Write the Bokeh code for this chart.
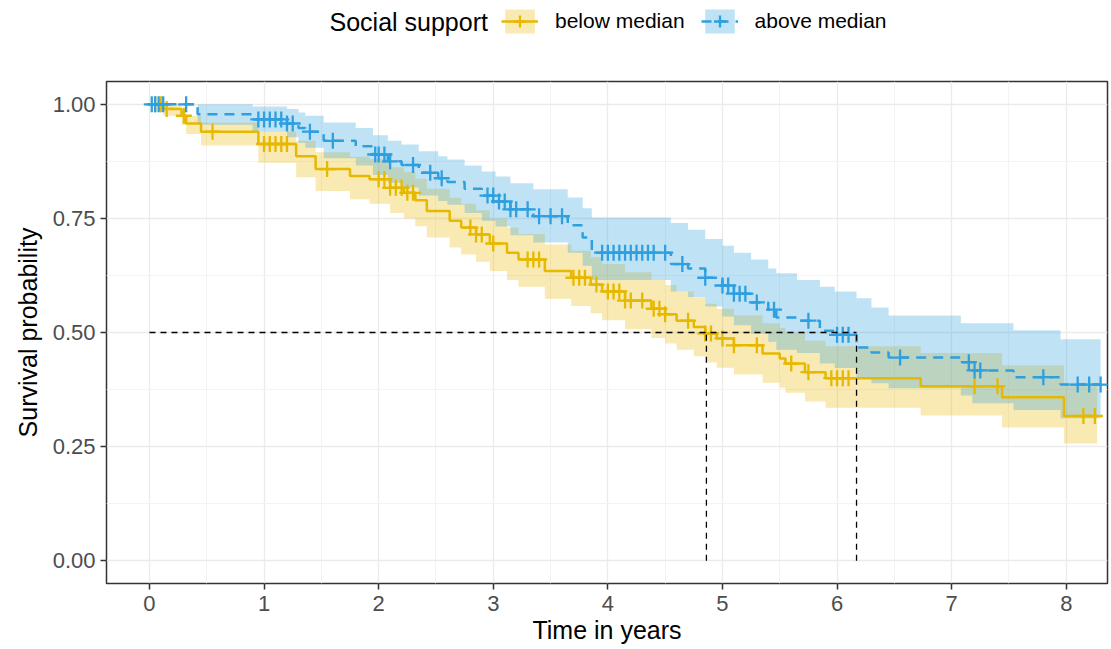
import numpy as np
from bokeh.plotting import figure
from bokeh.layouts import column
from bokeh.models import FixedTicker, Legend, LegendItem, Range1d, NumeralTickFormatter, Label
from bokeh.embed import file_html
from bokeh.resources import INLINE

# ---- below median (yellow) ----
below_t = [0, 0.12, 0.28, 0.32, 0.45, 0.95, 1.28, 1.45, 1.75, 1.92, 2.1, 2.22, 2.32, 2.42,
           2.62, 2.72, 2.85, 2.97, 3.12, 3.22, 3.45, 3.68, 3.85, 3.95, 4.15, 4.38, 4.5, 4.6,
           4.75, 4.85, 4.95, 5.1, 5.35, 5.5, 5.55, 5.72, 5.9, 6.73, 7.44, 7.98]
below_s = [1.0, 0.99, 0.975, 0.958, 0.94, 0.913, 0.886, 0.858, 0.843, 0.836, 0.817, 0.806, 0.79, 0.766,
           0.745, 0.73, 0.715, 0.695, 0.675, 0.66, 0.635, 0.62, 0.605, 0.59, 0.57, 0.552, 0.54, 0.526,
           0.512, 0.498, 0.487, 0.472, 0.454, 0.443, 0.432, 0.413, 0.40, 0.382, 0.358, 0.317]
below_up = [1.0, 1.0, 0.99, 0.975, 0.96, 0.94, 0.92, 0.895, 0.885, 0.88, 0.862, 0.852, 0.837, 0.815,
            0.795, 0.782, 0.768, 0.75, 0.73, 0.716, 0.693, 0.679, 0.665, 0.65, 0.632, 0.615, 0.604, 0.59,
            0.577, 0.563, 0.552, 0.538, 0.52, 0.51, 0.5, 0.482, 0.47, 0.455, 0.428, 0.39]
below_lo = [1.0, 0.975, 0.955, 0.935, 0.91, 0.872, 0.84, 0.81, 0.792, 0.782, 0.762, 0.75, 0.733, 0.708,
            0.686, 0.671, 0.655, 0.635, 0.615, 0.6, 0.574, 0.558, 0.542, 0.527, 0.507, 0.488, 0.476, 0.462,
            0.448, 0.434, 0.423, 0.408, 0.39, 0.379, 0.368, 0.349, 0.335, 0.318, 0.292, 0.257]
below_end = 8.27
below_cens = [0.05, 0.1, 0.15, 0.3, 0.55, 1.0, 1.05, 1.1, 1.15, 1.2, 1.55, 2.0, 2.05, 2.1, 2.15,
              2.2, 2.25, 2.3, 2.8, 2.85, 2.9, 3.0, 3.3, 3.35, 3.4, 3.7, 3.75, 3.8, 3.9, 4.0, 4.05,
              4.1, 4.15, 4.2, 4.3, 4.4, 4.45, 4.5, 4.7, 4.85, 4.9, 5.0, 5.1, 5.3, 5.6, 5.75, 5.95,
              6.0, 6.05, 6.1, 7.2, 7.4, 8.15, 8.25]

# ---- above median (blue) ----
above_t = [0, 0.42, 0.9, 1.2, 1.3, 1.36, 1.52, 1.8, 1.95, 2.08, 2.2, 2.35, 2.52, 2.6, 2.75, 2.9,
           3.02, 3.15, 3.35, 3.65, 3.78, 3.86, 4.55, 4.7, 4.85, 5.0, 5.1, 5.25, 5.4, 5.47, 5.65,
           5.85, 5.98, 6.17, 6.3, 6.45, 7.08, 7.18, 7.54, 7.95]
above_s = [1.0, 0.978, 0.967, 0.958, 0.948, 0.94, 0.92, 0.908, 0.89, 0.875, 0.867, 0.85, 0.838, 0.83,
           0.815, 0.80, 0.787, 0.77, 0.755, 0.735, 0.708, 0.675, 0.65, 0.64, 0.62, 0.603, 0.585, 0.566,
           0.55, 0.533, 0.526, 0.504, 0.495, 0.467, 0.456, 0.445, 0.435, 0.417, 0.402, 0.386]
above_up = [1.0, 1.0, 0.995, 0.99, 0.982, 0.975, 0.96, 0.948, 0.932, 0.92, 0.912, 0.897, 0.886, 0.879,
            0.866, 0.853, 0.842, 0.827, 0.814, 0.796, 0.772, 0.752, 0.74, 0.725, 0.705, 0.69, 0.675, 0.66,
            0.64, 0.63, 0.615, 0.60, 0.59, 0.575, 0.555, 0.537, 0.52, 0.52, 0.505, 0.485]
above_lo = [1.0, 0.955, 0.94, 0.928, 0.915, 0.905, 0.882, 0.866, 0.845, 0.828, 0.818, 0.8, 0.788, 0.78,
            0.762, 0.745, 0.732, 0.713, 0.697, 0.675, 0.646, 0.615, 0.59, 0.578, 0.557, 0.535, 0.516, 0.497,
            0.48, 0.462, 0.455, 0.432, 0.422, 0.40, 0.389, 0.378, 0.362, 0.345, 0.33, 0.312]
above_end = 8.3
above_cens = [0.02, 0.05, 0.08, 0.12, 0.32, 0.95, 1.0, 1.05, 1.1, 1.15, 1.2, 1.25, 1.4, 1.6, 1.97,
              2.0, 2.05, 2.1, 2.3, 2.45, 2.55, 2.95, 3.0, 3.05, 3.1, 3.15, 3.2, 3.3, 3.4, 3.5, 3.6,
              3.95, 4.0, 4.05, 4.1, 4.15, 4.2, 4.25, 4.3, 4.35, 4.4, 4.5, 4.65, 4.85, 5.0, 5.05, 5.1,
              5.15, 5.2, 5.3, 5.45, 5.75, 6.0, 6.05, 6.1, 6.55, 7.15, 7.2, 7.25, 7.8, 8.1, 8.2, 8.3]

median_below = 4.86
median_above = 6.17

legend_title = "Social support"
group_labels = ["below median", "above median"]
colors = ["#E7B800", "#2E9FDF"]
dashes = ["solid", "10 7"]
x_ticks = [0, 1, 2, 3, 4, 5, 6, 7, 8]
y_ticks = [0, 0.25, 0.5, 0.75, 1.0]

FONT = "Liberation Sans"
LEG_H = 44


def stepify(t, v, end):
    xs, ys = [], []
    t = list(t) + [end]
    for i in range(len(v)):
        xs += [t[i], t[i + 1]]
        ys += [v[i], v[i]]
    return np.array(xs), np.array(ys)


def lookup(t, v, c):
    idx = np.searchsorted(np.array(t), np.array(c), side="right") - 1
    return np.array(v)[idx]


p = figure(width=1111, height=649 - LEG_H, x_range=Range1d(-0.375, 8.36), y_range=Range1d(-0.05, 1.05),
           min_border_left=106, min_border_right=4, min_border_top=81 - LEG_H, min_border_bottom=66,
           output_backend="svg", toolbar_location=None)

p.background_fill_color = "white"
p.outline_line_color = "#333333"
p.outline_line_width = 1.5

groups = [
    (below_t, below_s, below_up, below_lo, below_end, below_cens),
    (above_t, above_s, above_up, above_lo, above_end, above_cens),
]

for (t, s, up, lo, end, cens), col in zip(groups, colors):
    xs, yu = stepify(t, up, end)
    _, yl = stepify(t, lo, end)
    p.varea(x=xs, y1=yl, y2=yu, fill_color=col, fill_alpha=0.3)

for (t, s, up, lo, end, cens), col, dash in zip(groups, colors, dashes):
    xs, ys = stepify(t, s, end)
    p.line(xs, ys, line_color=col, line_width=2.5, line_dash=dash)
    cy = lookup(t, s, cens)
    p.scatter(cens, cy, marker="cross", size=16, line_color=col, line_width=2.3)

# median lines
p.line([0, median_above], [0.5, 0.5], line_color="black", line_width=1.3, line_dash="6 5")
p.line([median_below, median_below], [0, 0.5], line_color="black", line_width=1.3, line_dash="6 5")
p.line([median_above, median_above], [0, 0.5], line_color="black", line_width=1.3, line_dash="6 5")

# axes
p.xaxis.ticker = FixedTicker(ticks=x_ticks, minor_ticks=[x + 0.5 for x in x_ticks])
p.yaxis.ticker = FixedTicker(ticks=y_ticks, minor_ticks=[y + 0.125 for y in y_ticks])
p.yaxis.formatter = NumeralTickFormatter(format="0.00")
for ax in (p.xaxis[0], p.yaxis[0]):
    ax.axis_line_color = None
    ax.major_tick_line_color = "#333333"
    ax.major_tick_line_width = 1.5
    ax.major_tick_out = 6
    ax.major_tick_in = 0
    ax.minor_tick_line_color = None
    ax.major_label_text_font = FONT
    ax.major_label_text_font_size = "22px"
    ax.major_label_text_color = "#4D4D4D"
    ax.axis_label_text_font = FONT
    ax.axis_label_text_font_size = "25px"
    ax.axis_label_text_font_style = "normal"
    ax.axis_label_text_color = "black"
p.xaxis.major_label_standoff = 6
p.yaxis.major_label_standoff = 5
p.xaxis.axis_label = "Time in years"
p.yaxis.axis_label = "Survival probability"
p.xaxis.axis_label_standoff = 2
p.yaxis.axis_label_standoff = 8

for g in (p.xgrid[0], p.ygrid[0]):
    g.grid_line_color = "#EBEBEB"
    g.grid_line_width = 1.3
    g.minor_grid_line_color = "#F3F3F3"
    g.minor_grid_line_width = 1

# ---- legend strip on top (frame is aligned with the main plot frame: left edge at x=106) ----
lf = figure(width=1111, height=LEG_H, x_range=Range1d(0, 1), y_range=Range1d(0, 1),
            min_border=0, x_axis_location=None, y_axis_location=None,
            output_backend="svg", toolbar_location=None)
lf.grid.visible = False
lf.outline_line_color = None

legend_items = []
for lab, col, dash in zip(group_labels, colors, dashes):
    # off-screen stand-in glyphs, only used to draw the legend keys
    band = lf.varea(x=[-10, -9], y1=[-10, -10], y2=[-9, -9], fill_color=col, fill_alpha=0.3)
    ln = lf.line(x=[-10, -9], y=[-10, -10], line_color=col, line_width=2.5, line_dash=dash)
    sc = lf.scatter(x=[-10], y=[-10], marker="cross", size=16, line_color=col, line_width=2.3)
    legend_items.append(LegendItem(label=lab, renderers=[band, ln, sc]))

legend = Legend(items=legend_items, orientation="horizontal", location=(395, 8))
legend.label_text_font = FONT
legend.label_text_font_size = "21px"
legend.label_text_color = "black"
legend.glyph_width = 37
legend.glyph_height = 30
legend.label_standoff = 17
legend.spacing = 16
legend.padding = 0
legend.margin = 0
legend.border_line_color = None
legend.background_fill_alpha = 0
lf.add_layout(legend, "center")

title_lbl = Label(x=223, y=23, x_units="screen", y_units="screen", text=legend_title,
                  text_font=FONT, text_font_size="25px", text_color="black",
                  text_baseline="middle", text_align="left")
lf.add_layout(title_lbl)

layout = column(lf, p, spacing=0)
open("out.html", "w").write(file_html(layout, INLINE))
